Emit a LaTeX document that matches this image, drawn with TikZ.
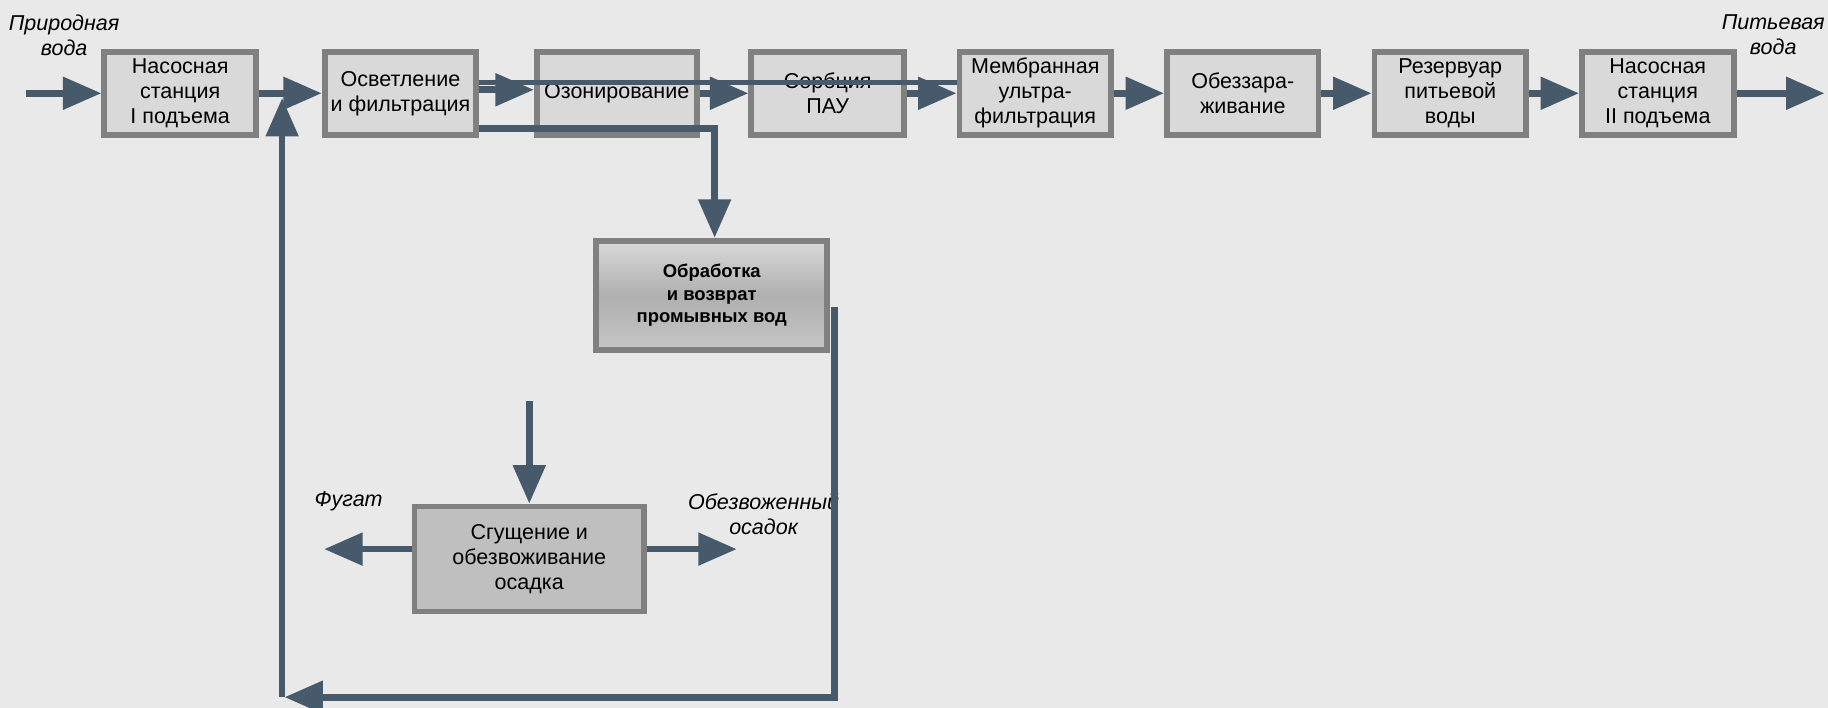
\documentclass[tikz,border=0pt]{standalone}
\usepackage{fontspec}
\setmainfont{Liberation Sans}
\usetikzlibrary{arrows.meta}
\definecolor{bgc}{HTML}{E9E9E9}
\definecolor{boxfill}{HTML}{D9D9D9}
\definecolor{boxline}{HTML}{808080}
\definecolor{flowc}{HTML}{475A6B}
\definecolor{sludgefill}{HTML}{BFBFBF}
\begin{document}
\begin{tikzpicture}[x=0.2mm,y=-0.2mm,
  every node/.style={font=\fontsize{10.5}{12.2}\selectfont},
  stage/.style={draw=boxline,fill=boxfill,line width=1mm,minimum width=26mm,minimum height=14.2mm,align=center,inner sep=1pt},
  flow/.style={draw=flowc,line width=1.15mm,-{Triangle[length=6.6mm,width=5.4mm]}},
  note/.style={align=center,font=\fontsize{10.5}{12.2}\selectfont\itshape}]
  \useasboundingbox[fill=bgc] (0,0) rectangle (1568,607);
  % main line
  \node[stage] (pump1) at (154.5,80) {Насосная\\станция\\I подъема};
  \node[stage] (clar) at (343.5,80) {Осветление\\и фильтрация};
  \node[stage,minimum width=27.4mm] (ozon) at (529,80) {Озонирование};
  \node[stage,minimum width=26.2mm] (sorb) at (710,80) {Сорбция\\ПАУ};
  \node[stage] (memb) at (888,80) {Мембранная\\ультра-\\фильтрация};
  \node[stage] (disinf) at (1066,80) {Обеззара-\\живание};
  \node[stage] (tank) at (1244,80) {Резервуар\\питьевой\\воды};
  \node[stage] (pump2) at (1422,80) {Насосная\\станция\\II подъема};
  % washwater and sludge
  \node[stage,minimum width=39.6mm,minimum height=18.8mm,shade,top color=boxfill,bottom color=sludgefill!90!white,middle color=sludgefill!92!black,font=\fontsize{9}{11}\selectfont\bfseries] (treat) at (610.5,253.5) {Обработка\\и возврат\\промывных вод};
  \node[stage,fill=sludgefill,minimum width=39.4mm,minimum height=18mm] (thick) at (454,479.5) {Сгущение и\\обезвоживание\\осадка};
  % labels
  \node[note] (inlbl) at (55,30) {Природная\\вода};
  \node[note] (outlbl) at (1521,30) {Питьевая\\вода};
  \node[note] (fugat) at (299,430) {Фугат};
  \node[note] (cake) at (655,441) {Обезвоженный\\осадок};
  \coordinate (src) at (22,80);
  \coordinate (dst) at (1565,80);
  \coordinate (ret) at (244,598);
  \coordinate (join) at (242,84);
  \coordinate (sludgein) at (454,344);
  \coordinate (fugtip) at (278,471);
  \coordinate (caketip) at (632,471);
  % arrows
  \draw[flow] (src) -- (pump1);
  \draw[flow] (pump1) -- (clar);
  \draw[flow] ([yshift=0.6mm]clar.east) -- ([yshift=0.6mm]ozon.west);
  \draw[draw=flowc,line width=0.9mm] ([yshift=1.8mm]clar.east) -- ([yshift=1.8mm]memb.west);
  \draw[flow] (ozon) -- (sorb);
  \draw[flow] (sorb) -- (memb);
  \draw[flow] (memb) -- (disinf);
  \draw[flow] (disinf) -- (tank);
  \draw[flow] (tank) -- (pump2);
  \draw[flow] (pump2) -- (dst);
  \draw[flow] ([yshift=-6mm]clar.east) -| ([xshift=0.5mm]treat.north);
  \draw[flow] ([xshift=0.7mm,yshift=-2mm]treat.east) |- (ret);
  \draw[flow] (242,598) -- (join);
  \draw[flow] (sludgein) -- (thick);
  \draw[flow] (thick.west |- fugtip) -- (fugtip);
  \draw[flow] (thick.east |- caketip) -- (caketip);
\end{tikzpicture}
\end{document}
